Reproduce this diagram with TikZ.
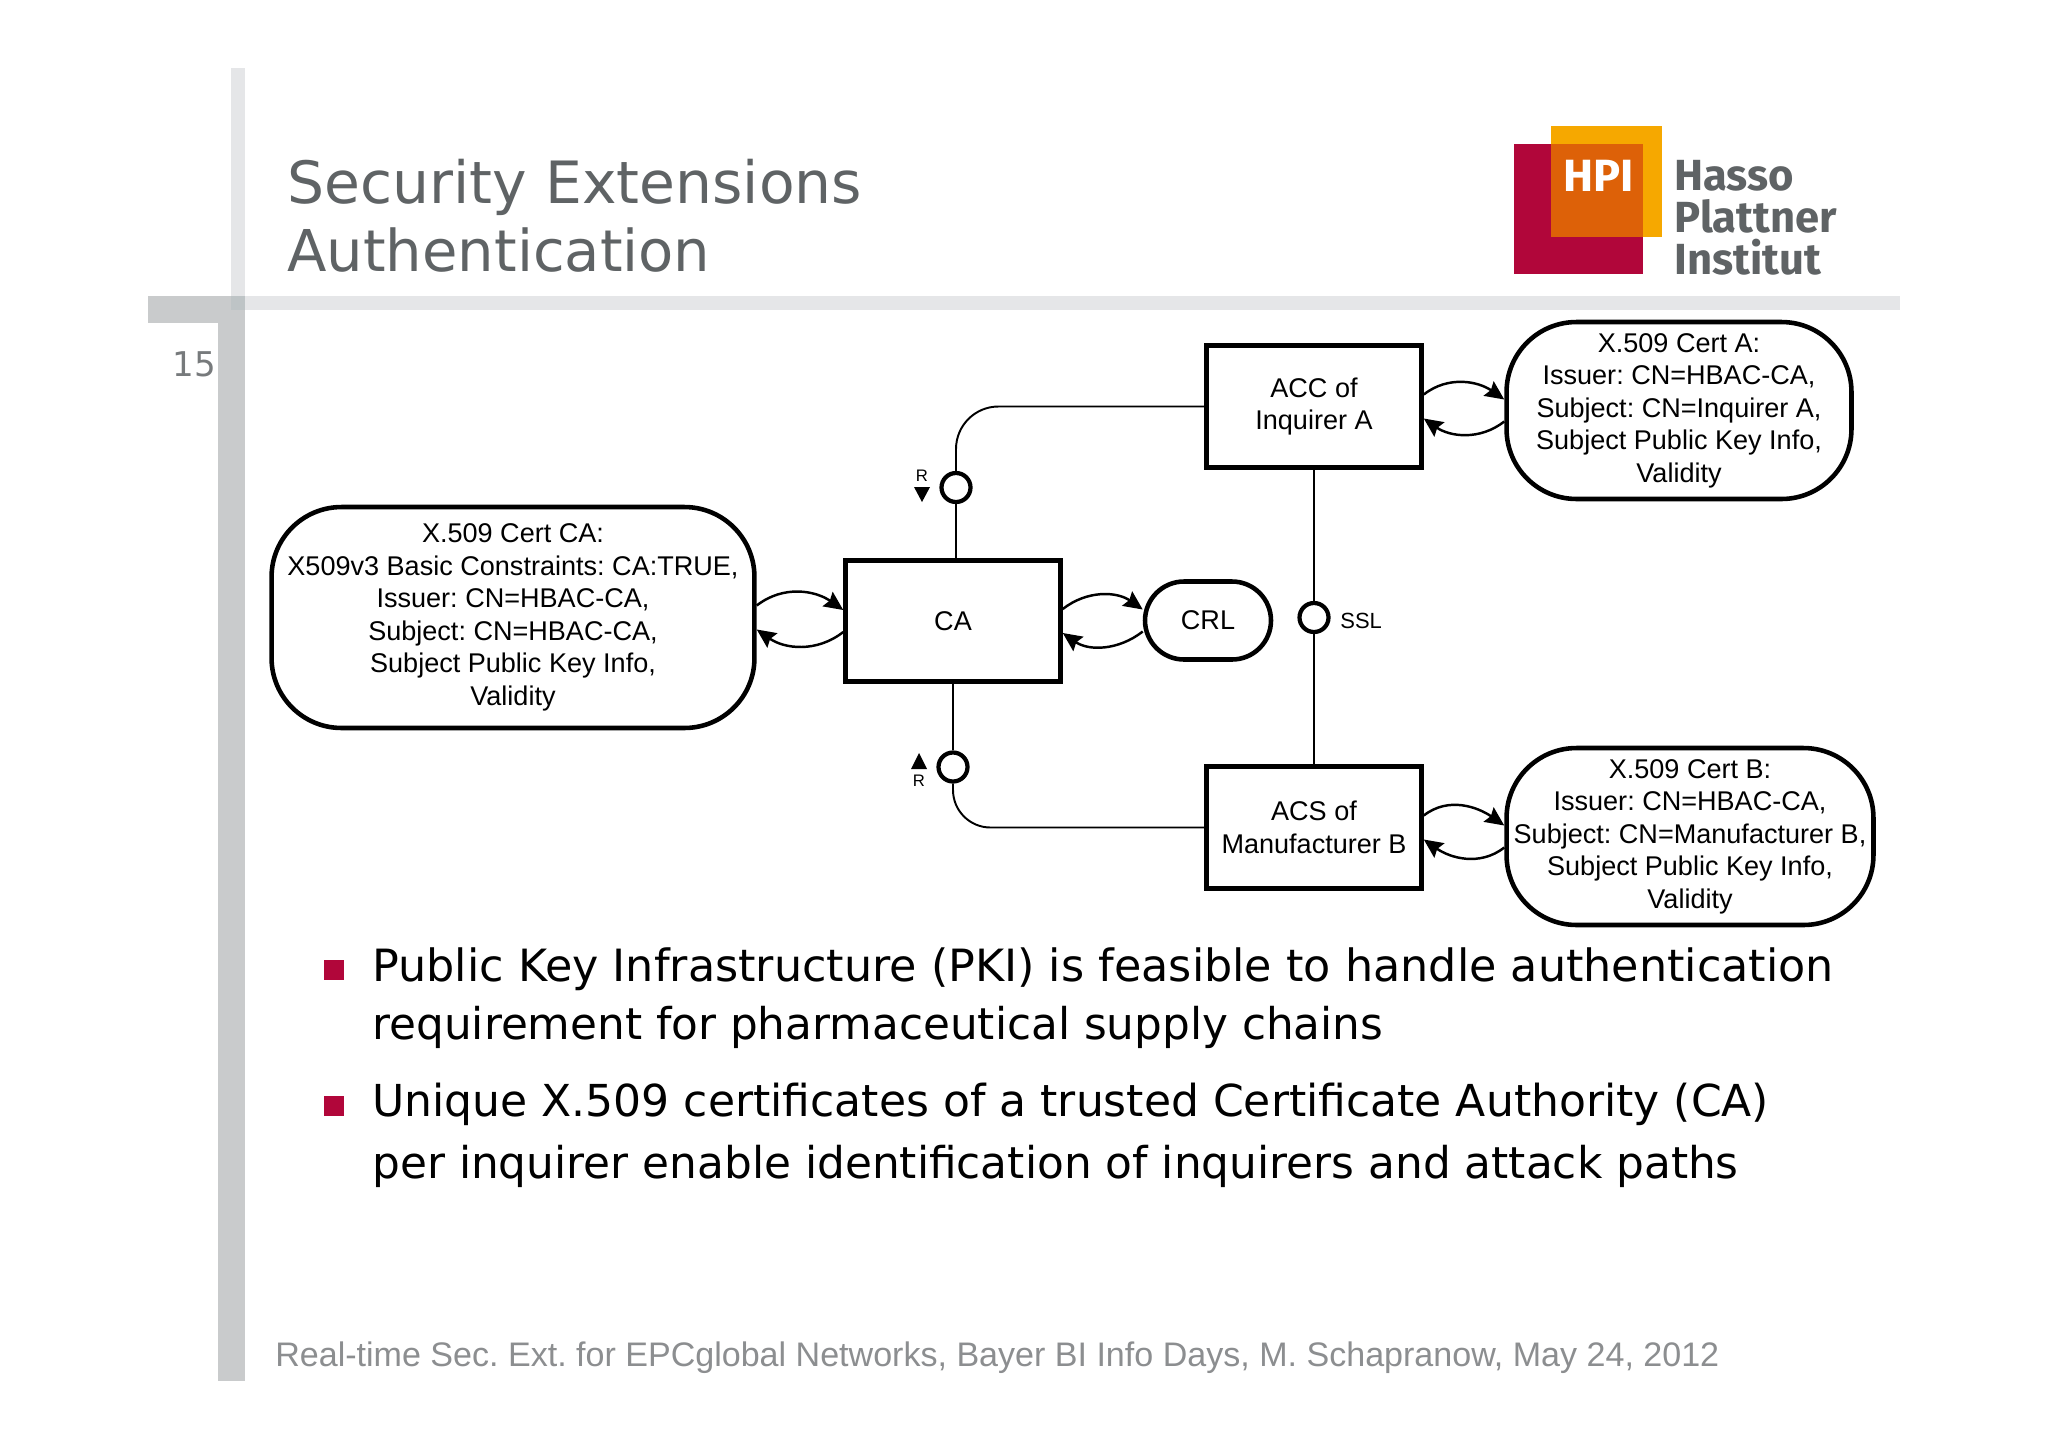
\documentclass[tikz,border=0pt]{standalone}
\usepackage{fontspec}
\setmainfont{DejaVu Sans}
\newfontfamily\arialfont{Liberation Sans}
\newfontfamily\logofont{Fira Sans}
\usetikzlibrary{arrows.meta,calc}
\definecolor{barlight}{HTML}{E5E6E8}
\definecolor{bardark}{HTML}{C9CBCC}
\definecolor{barboth}{HTML}{BEC4C6}
\definecolor{slategray}{HTML}{5F6365}
\definecolor{footgray}{HTML}{8C8E90}
\definecolor{hpired}{HTML}{B1063A}
\definecolor{hpiyellow}{HTML}{F6A800}
\definecolor{hpiorange}{HTML}{DD6108}
\frenchspacing
\tikzset{
  actor/.style={draw,line width=2.6pt,inner sep=0pt,align=center,font=\arialfont\fontsize{15.4}{18.5}\selectfont},
  pill/.style={actor,rounded corners=1.4cm},
  cert/.style={pill,execute at begin node={\rule{0pt}{16.5pt}}},
  agent/.style={actor,minimum width=4.3cm,minimum height=2.45cm},
  channel/.style={draw,line width=2.4pt,circle,fill=white,inner sep=0pt,minimum size=0.58cm},
  link/.style={line width=1.1pt},
  flow/.style={line width=1.4pt,->},
  tiny/.style={font=\arialfont\fontsize{9.5}{10}\selectfont,inner sep=0pt},
  bullettext/.style={anchor=base west,inner sep=0pt,font=\fontsize{#1}{30}\selectfont},
  bullet/.style={fill=hpired,minimum size=0.4cm,inner sep=0pt},
  logotext/.style={anchor=base west,inner sep=0pt,text=slategray,font=\logofont\bfseries\fontsize{24.8}{28}\selectfont}
}
\begin{document}
\begin{tikzpicture}[x=0.02cm,y=-0.02cm,>={Stealth[length=0.38cm,width=0.35cm,inset=1.5pt]}]
  \useasboundingbox (0,0) rectangle (2048,1447);
  \fill[white] (0,0) rectangle (2048,1447);
  % slide frame
  \fill[bardark] (148,296) rectangle (245,323);
  \fill[bardark] (218,323) rectangle (245,1381);
  \fill[barlight] (231,68) rectangle (245,296);
  \fill[barlight] (245,296) rectangle (1900,310);
  \fill[barboth] (231,296) rectangle (245,310);
  \node[anchor=base west,inner sep=0pt,text=slategray,font=\fontsize{33.2}{38}\selectfont] (title1) at (287,203) {Security Extensions};
  \node[anchor=base west,inner sep=0pt,text=slategray,font=\fontsize{32.8}{38}\selectfont] (title2) at (287,271) {Authentication};
  \node[anchor=base east,inner sep=0pt,text=slategray!85,font=\fontsize{19.4}{22}\selectfont] (page) at (216.5,376) {15};
  % logo
  \fill[hpired] (1514,144) rectangle (1643,274);
  \fill[hpiyellow] (1551,126) rectangle (1662,237);
  \fill[hpiorange] (1551,144) rectangle (1643,237);
  \node[anchor=base west,inner sep=0pt,text=white,font=\logofont\bfseries\fontsize{25.7}{30}\selectfont] (hpi) at (1563,191) {HPI};
  \node[logotext] (hasso) at (1674,190) {Hasso};
  \node[logotext] (plattner) at (1674,232) {Plattner};
  \node[logotext] (institut) at (1674,274) {Institut};
  % boxes
  \node[agent,minimum height=2.42cm] (ca) at (953,621) {CA};
  \node[agent] (acc) at (1314,406.5) {ACC of\\Inquirer A};
  \node[agent] (acs) at (1314,827.5) {ACS of\\Manufacturer B};
  \node[pill,minimum width=2.52cm,minimum height=1.56cm,rounded corners=0.78cm] (crl) at (1208,620.5) {CRL};
  \node[cert,minimum width=9.66cm,minimum height=4.42cm] (certca) at (513,617.5) {X.509 Cert CA:\\X509v3 Basic Constraints: CA:TRUE,\\Issuer: CN=HBAC-CA,\\Subject: CN=HBAC-CA,\\Subject Public Key Info,\\Validity};
  \node[cert,minimum width=6.9cm,minimum height=3.54cm] (certa) at (1679,410.5) {X.509 Cert A:\\Issuer: CN=HBAC-CA,\\Subject: CN=Inquirer A,\\Subject Public Key Info,\\Validity};
  \node[cert,minimum width=7.34cm,minimum height=3.54cm] (certb) at (1690,836.5) {X.509 Cert B:\\Issuer: CN=HBAC-CA,\\Subject: CN=Manufacturer B,\\Subject Public Key Info,\\Validity};
  % channels
  \node[channel] (rtop) at (956,487.5) {};
  \node[channel] (rbot) at (953,767) {};
  \node[channel] (ssl) at (1314,617.5) {};
  \node[tiny] (rtoplabel) at (922,476) {R};
  \node[tiny] (rbotlabel) at (919,781) {R};
  \node[tiny,font=\arialfont\fontsize{12.5}{14}\selectfont,anchor=west] (ssllabel) at (1340,621) {SSL};
  \fill (914,487) -- (930,487) -- (922,502) -- cycle;
  \fill (911,769) -- (927,769) -- (919,753) -- cycle;
  % links
  \draw[link,rounded corners=0.85cm] (acc.west) -| (rtop.north);
  \draw[link] (rtop.south) -- (rtop.south |- ca.north);
  \draw[link] (rbot.north) -- (rbot.north |- ca.south);
  \draw[link,rounded corners=0.75cm] (rbot.south) |- (acs.west);
  \draw[link] (acc.south) -- (ssl.north);
  \draw[link] (ssl.south) -- (acs.north);
  % certificate flows
  \foreach \agentnode/\certnode in {ca/crl,certca/ca,acc/certa,acs/certb} {
    \draw[flow] ($(\agentnode.east)+(0,-12)$) to[out=38,in=145] ($(\certnode.west)+(0,-11)$);
    \draw[flow] ($(\certnode.west)+(0,11)$) to[out=-142,in=-35] ($(\agentnode.east)+(0,12)$);
  }
  % text
  \node[bullet] (b1) at (333.5,970) {};
  \node[bullet] (b2) at (333.5,1106) {};
  \node[bullettext=25.3] (t1) at (372,981) {Public Key Infrastructure (PKI) is feasible to handle authentication};
  \node[bullettext=24.9] (t2) at (372,1039) {requirement for pharmaceutical supply chains};
  \node[bullettext=25.07] (t3) at (372,1116) {Unique X.509 certificates of a trusted Certificate Authority (CA)};
  \node[bullettext=24.94] (t4) at (372,1178) {per inquirer enable identification of inquirers and attack paths};
  \node[anchor=base west,inner sep=0pt,text=footgray,font=\arialfont\fontsize{19.38}{24}\selectfont] (foot) at (275,1366) {Real-time Sec. Ext. for EPCglobal Networks, Bayer BI Info Days, M. Schapranow, May 24, 2012};
\end{tikzpicture}
\end{document}
